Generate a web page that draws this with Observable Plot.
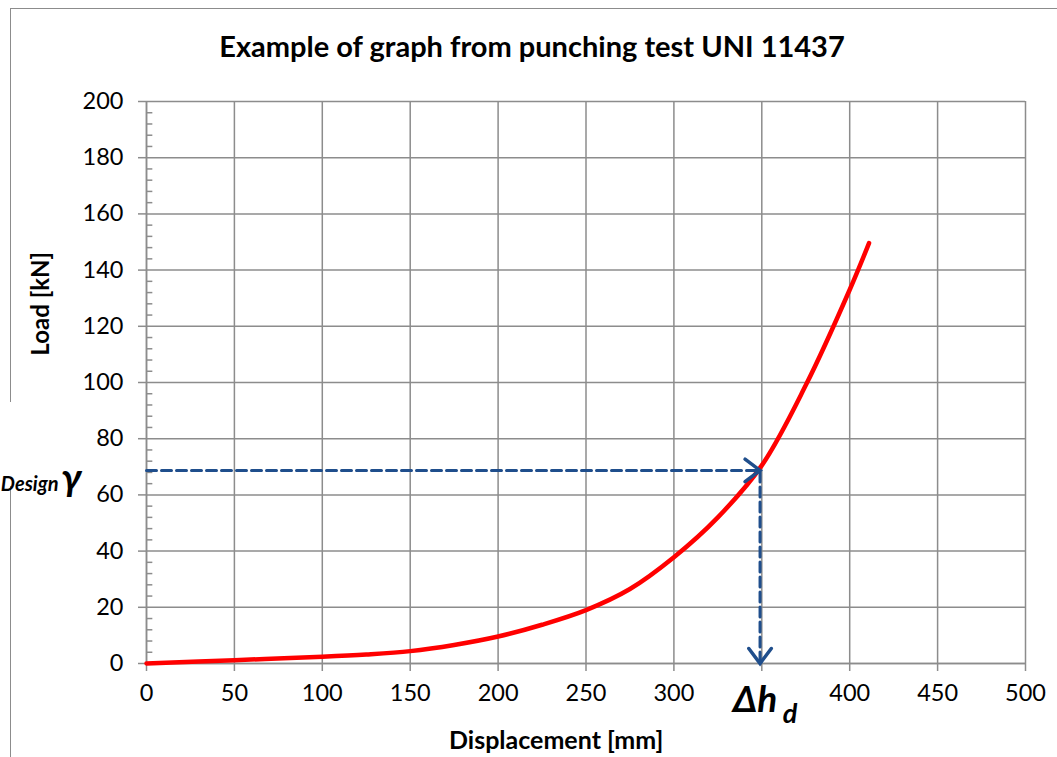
<!DOCTYPE html>
<html>
<head>
<meta charset="utf-8">
<script src="https://cdn.jsdelivr.net/npm/d3@7"></script>
<script src="https://cdn.jsdelivr.net/npm/@observablehq/plot@0.6"></script>
<style>
  body { margin: 0; background: #fff; font-family: Lato, "Open Sans", sans-serif; }
  #wrap { position: relative; width: 1057px; height: 757px; overflow: hidden; }
  #border { position: absolute; left: 10px; top: 8px; width: 1100px; height: 800px;
            border-left: 1.5px solid #8c8c8c; border-top: 1.5px solid #8c8c8c; }
  #title { position: absolute; left: 0; top: 28px; width: 1064px; text-align: center;
           font: bold 29px Lato, sans-serif; color: #000; }
  #chart { position: absolute; left: 0; top: 80px; }
  #gap { position: absolute; left: 0; top: 402px; width: 30px; height: 84px; background: #fff; }
</style>
</head>
<body>
<div id="wrap">
  <div id="border"></div>
  <div id="gap"></div>
  <div id="title">Example of graph from punching test UNI 11437</div>
  <div id="chart"></div>
</div>
<script>
// Data
const displacement = [0, 50, 100, 125, 150, 175, 200, 225, 250, 275, 300, 325, 350, 375, 400, 411];
const load =         [0, 1.2, 2.4, 3.2, 4.4, 6.6, 9.6, 13.8, 19, 26.5, 37.8, 52, 70.5, 99, 133, 149.6];
const xTicks = [0, 50, 100, 150, 200, 250, 300, 350, 400, 450, 500];
const yTicks = [0, 20, 40, 60, 80, 100, 120, 140, 160, 180, 200];
const yMinor = d3.range(0, 201, 4).filter(v => v % 20 !== 0);
const designX = 349;
const designY = 68.7;
const xLabelHidden = 350;

const curve = displacement.map((x, i) => ({x, y: load[i]}));
const blue = "#1f4e8c";
const grid = "#8c8c8c";

// open chevron arrowhead, tip at the anchor point, pointing "up" before rotation
const chevron = {
  draw(context, l) {
    context.moveTo(-l * 0.75, l);
    context.lineTo(0, 0);
    context.lineTo(l * 0.75, l);
  }
};

const plot = Plot.plot({
  width: 1057,
  height: 677,
  marginLeft: 146,
  marginRight: 32,
  marginTop: 21,
  marginBottom: 94,
  style: {fontFamily: "Lato, sans-serif", fontSize: "23px", color: "#000", background: "transparent", overflow: "visible"},
  x: {domain: [0, 500]},
  y: {domain: [0, 200]},
  marks: [
    Plot.gridX(xTicks, {stroke: grid, strokeOpacity: 1, strokeWidth: 1.5}),
    Plot.gridY(yTicks, {stroke: grid, strokeOpacity: 1, strokeWidth: 1.5}),
    Plot.axisX(xTicks, {tickSize: 8, tickPadding: 13, stroke: grid, strokeWidth: 1.5, label: null,
      tickFormat: d => d === xLabelHidden ? "" : String(d), fontSize: 23.5}),
    Plot.axisY(yTicks, {tickSize: 8, tickPadding: 15, stroke: grid, strokeWidth: 1.5, label: null, fontSize: 23.5}),
    Plot.ruleY(yMinor, {x1: 0, x2: 3.6, stroke: grid, strokeWidth: 1.5}),
    Plot.ruleX([0], {stroke: grid, strokeWidth: 1.5}),
    Plot.ruleY([0], {stroke: grid, strokeWidth: 1.5}),
    Plot.line(curve, {x: "x", y: "y", stroke: "#ff0000", strokeWidth: 4.5, curve: "catmull-rom"}),
    Plot.line([{x: 0, y: designY}, {x: designX, y: designY}, {x: designX, y: 0}],
      {x: "x", y: "y", stroke: blue, strokeWidth: 3, strokeDasharray: "10,5"}),
    Plot.vector([{x: designX, y: designY}], {x: "x", y: "y", length: 15, rotate: 90, anchor: "start",
      shape: chevron, stroke: blue, strokeWidth: 3.5, fill: "none", strokeLinejoin: "miter"}),
    Plot.vector([{x: designX, y: 0}], {x: "x", y: "y", length: 15, rotate: 180, anchor: "start",
      shape: chevron, stroke: blue, strokeWidth: 3.5, fill: "none", strokeLinejoin: "miter"}),
    Plot.text(["Δh"], {x: designX, y: -13, dx: -5, text: d => d, fontSize: 37, fontWeight: "bold", fontStyle: "italic", textAnchor: "middle"}),
    Plot.text(["d"], {x: designX, y: -13, dx: 30, dy: 14, text: d => d, fontSize: 27, fontWeight: "bold", fontStyle: "italic", textAnchor: "middle"}),
    Plot.text(["Displacement [mm]"], {x: 233, y: -27.5, text: d => d, fontSize: 25, fontWeight: "bold"}),
    Plot.text(["Load [kN]"], {x: -60, y: 128, text: d => d, fontSize: 24, fontWeight: "bold", rotate: -90}),
    Plot.text(["γ"], {x: -37, y: designY - 3, text: d => d, fontSize: 39, fontWeight: "bold", fontStyle: "italic", textAnchor: "end"}),
    Plot.text(["Design"], {x: -50, y: designY - 5, text: d => d, fontSize: 20, fontWeight: "bold", fontStyle: "italic", textAnchor: "end"})
  ]
});
document.getElementById("chart").appendChild(plot);
</script>
</body>
</html>
